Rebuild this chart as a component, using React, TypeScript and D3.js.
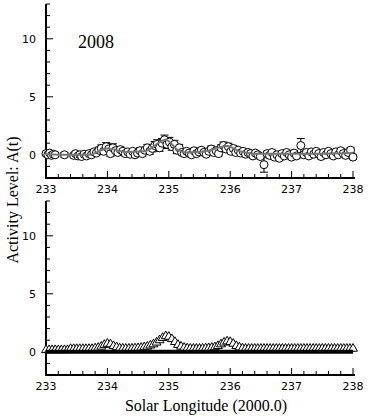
import React from 'react';
import * as d3 from 'd3';

// observed activity (top panel)
const obsLon = [
  233.0, 233.03, 233.06, 233.09, 233.12, 233.15, 233.3, 233.45, 233.48, 233.52, 233.55, 233.58, 233.62,
  233.66, 233.7, 233.74, 233.78, 233.82, 233.86, 233.9, 233.94, 233.98, 234.02, 234.05, 234.09, 234.13,
  234.17, 234.21, 234.25, 234.29, 234.33, 234.37, 234.41, 234.45, 234.49, 234.53, 234.57, 234.61, 234.65,
  234.69, 234.73, 234.77, 234.81, 234.85, 234.89, 234.93, 234.97, 235.01, 235.05, 235.09, 235.13, 235.17,
  235.21, 235.25, 235.29, 235.33, 235.37, 235.41, 235.45, 235.49, 235.53, 235.57, 235.61, 235.65, 235.69,
  235.73, 235.77, 235.81, 235.85, 235.89, 235.93, 235.97, 236.01, 236.05, 236.09, 236.13, 236.17, 236.21,
  236.25, 236.29, 236.33, 236.37, 236.41, 236.45, 236.49, 236.55, 236.6, 236.64, 236.68, 236.72, 236.76,
  236.8, 236.84, 236.88, 236.92, 236.96, 237.0, 237.04, 237.08, 237.15, 237.2, 237.24, 237.28, 237.32,
  237.36, 237.4, 237.44, 237.48, 237.52, 237.56, 237.6, 237.64, 237.68, 237.72, 237.76, 237.8, 237.84,
  237.88, 237.92, 237.96, 238.0,
];
const obsA = [
  0.1, 0.0, 0.15, -0.05, 0.05, 0.0, 0.0, -0.05, 0.1, -0.1, 0.0, -0.15, 0.05,
  -0.1, 0.1, 0.0, 0.25, 0.15, 0.4, 0.55, 0.3, 0.7, 0.5, 0.1, 0.6, 0.35,
  0.2, 0.45, 0.3, 0.1, 0.25, 0.05, 0.3, 0.0, 0.15, 0.35, 0.1, 0.4, 0.6,
  0.3, 0.55, 0.8, 0.9, 0.6, 1.0, 1.3, 0.9, 1.1, 0.7, 0.9, 0.4, 0.6,
  0.2, 0.1, 0.3, 0.15, 0.0, 0.35, 0.1, 0.25, 0.4, 0.2, 0.05, 0.3, 0.5,
  0.2, 0.35, 0.1, 0.6, 0.8, 0.5, 0.7, 0.3, 0.55, 0.2, 0.4, 0.15, 0.3,
  0.05, 0.2, 0.1, -0.1, 0.15, 0.0, -0.15, -0.85, 0.1, -0.05, 0.2, -0.2, 0.0,
  -0.3, 0.1, -0.1, 0.2, 0.0, -0.2, 0.15, -0.1, 0.8, 0.0, 0.2, -0.1, 0.25,
  0.05, 0.3, 0.1, -0.15, 0.2, 0.0, 0.3, 0.1, -0.1, 0.25, 0.0, 0.35, 0.1,
  -0.05, 0.2, 0.4, -0.2,
];
const obsErr = [
  0.15, 0.15, 0.15, 0.15, 0.15, 0.15, 0.2, 0.15, 0.15, 0.15, 0.15, 0.15, 0.15,
  0.15, 0.15, 0.15, 0.2, 0.2, 0.25, 0.3, 0.25, 0.35, 0.4, 0.25, 0.35, 0.25,
  0.2, 0.25, 0.2, 0.2, 0.2, 0.2, 0.2, 0.2, 0.2, 0.25, 0.2, 0.25, 0.3,
  0.25, 0.3, 0.35, 0.4, 0.3, 0.4, 0.4, 0.35, 0.4, 0.3, 0.35, 0.3, 0.3,
  0.2, 0.2, 0.2, 0.2, 0.2, 0.2, 0.2, 0.2, 0.2, 0.2, 0.2, 0.2, 0.25,
  0.2, 0.2, 0.2, 0.25, 0.3, 0.25, 0.3, 0.2, 0.25, 0.2, 0.2, 0.2, 0.2,
  0.2, 0.2, 0.2, 0.2, 0.2, 0.2, 0.2, 0.65, 0.2, 0.2, 0.2, 0.2, 0.2,
  0.2, 0.2, 0.2, 0.2, 0.2, 0.2, 0.2, 0.2, 0.6, 0.2, 0.2, 0.2, 0.2,
  0.2, 0.2, 0.2, 0.2, 0.2, 0.2, 0.2, 0.2, 0.2, 0.2, 0.2, 0.2, 0.2,
  0.2, 0.2, 0.2, 0.2,
];

// smoothed observed curve (grey line)
const smoothLon = [233.0, 233.4, 233.7, 234.0, 234.3, 234.6, 234.95, 235.15, 235.3, 235.6, 235.95, 236.15, 236.4, 237.0, 237.5, 238.0];
const smoothA = [0.05, 0.0, 0.0, 0.55, 0.25, 0.3, 1.3, 0.4, 0.2, 0.3, 0.75, 0.3, 0.1, 0.1, 0.1, 0.15];

// model activity (bottom panel), sampled every 0.05 deg
const modelLon = d3.range(0, 101).map((i) => 233 + i * 0.05);
const modelA = [
  0.15, 0.15, 0.15, 0.15, 0.15, 0.15, 0.15, 0.15,
  0.25, 0.25, 0.25, 0.25, 0.25, 0.25, 0.25, 0.25,
  0.3, 0.35, 0.45, 0.6, 0.7, 0.65, 0.5, 0.4, 0.3,
  0.28, 0.27, 0.27, 0.28, 0.3, 0.32, 0.35,
  0.4, 0.45, 0.55, 0.65, 0.8, 1.0, 1.2, 1.35, 1.3, 1.1, 0.85, 0.6, 0.45, 0.35,
  0.3, 0.28, 0.27, 0.27, 0.27, 0.28, 0.3, 0.32, 0.35, 0.4,
  0.5, 0.65, 0.8, 0.9, 0.85, 0.7, 0.5, 0.38, 0.3,
  0.27, 0.27, 0.27, 0.27, 0.27, 0.27, 0.27, 0.27, 0.27, 0.27, 0.27, 0.27,
  0.27, 0.27, 0.27, 0.27, 0.27, 0.27, 0.27, 0.27, 0.27, 0.27, 0.27, 0.27,
  0.27, 0.27, 0.27, 0.27, 0.27, 0.27, 0.27, 0.27, 0.27, 0.27, 0.27, 0.27,
];

const xMajor = [233, 234, 235, 236, 237, 238];
const yMajor = [0, 5, 10];
const yearLabel = '2008';

const W = 371;
const H = 418;
const left = 46;
const right = 353;

const x = d3.scaleLinear().domain([233, 238]).range([left, right]);
const tickFont = '"DejaVu Sans", sans-serif';
const serif = '"Liberation Serif", "Times New Roman", serif';

function Axes({ y }: { y: d3.ScaleLinear<number, number> }) {
  const [y0, y1] = y.range();
  const xMinor = d3.range(0, 26).map((i) => 233 + i * 0.2);
  const yMinor = d3.range(-2, 14);
  return (
    <g>
      {xMinor.map((v, i) => (
        <line key={'xm' + i} x1={x(v)} x2={x(v)} y1={y0} y2={y0 - (i % 5 === 0 ? 7 : 4)} stroke="#000" strokeWidth={1} />
      ))}
      {yMinor.map((v) => (
        <line key={'ym' + v} x1={left} x2={left + (v % 5 === 0 ? 7 : 4)} y1={y(v)} y2={y(v)} stroke="#000" strokeWidth={1} />
      ))}
      <line x1={left} x2={right + 2} y1={y0} y2={y0} stroke="#000" strokeWidth={2} />
      <line x1={left} x2={left} y1={y0 + 1} y2={y1} stroke="#000" strokeWidth={2} />
      {xMajor.map((v) => (
        <text key={'xl' + v} x={x(v)} y={y0 + 15} textAnchor="middle" fontFamily={tickFont} fontSize={11}>
          {v}
        </text>
      ))}
      {yMajor.map((v) => (
        <text key={'yl' + v} x={36} y={y(v) + 4} textAnchor="end" fontFamily={tickFont} fontSize={11}>
          {v}
        </text>
      ))}
    </g>
  );
}

export default function App() {
  const yTop = d3.scaleLinear().domain([-2, 13]).range([178, 4]);
  const yBot = d3.scaleLinear().domain([-2, 13]).range([375, 201]);

  const smoothLine = d3
    .line<number>()
    .x((d) => x(d))
    .y((_, i) => yTop(smoothA[i]))
    .curve(d3.curveMonotoneX);

  const tri = d3.symbol().type(d3.symbolTriangle).size(34);

  return (
    <svg width={W} height={H} style={{ position: 'absolute', left: 0, top: 0, background: '#fff' }}>
      {/* top panel: observations */}
      <Axes y={yTop} />
      <text x={78} y={48} fontFamily={serif} fontSize={18}>
        {yearLabel}
      </text>
      <g stroke="#000" strokeWidth={1}>
        {obsLon.map((lon, i) => {
          const cx = x(lon);
          const hi = yTop(obsA[i] + obsErr[i]);
          const lo = yTop(obsA[i] - obsErr[i]);
          return (
            <g key={'e' + i}>
              <line x1={cx} x2={cx} y1={hi} y2={lo} />
              <line x1={cx - 4} x2={cx + 4} y1={hi} y2={hi} />
              <line x1={cx - 4} x2={cx + 4} y1={lo} y2={lo} />
            </g>
          );
        })}
      </g>
      <g fill="#fff" stroke="#000" strokeWidth={1}>
        {obsLon.map((lon, i) => (
          <circle key={'c' + i} cx={x(lon)} cy={yTop(obsA[i])} r={4} />
        ))}
      </g>
      <path d={smoothLine(smoothLon) || ''} fill="none" stroke="#777" strokeWidth={2} />

      {/* bottom panel: model */}
      <Axes y={yBot} />
      <g fill="#fff" stroke="#000" strokeWidth={1}>
        {modelLon.map((lon, i) => (
          <path key={'t' + i} d={tri() || ''} transform={`translate(${x(lon)},${yBot(modelA[i])})`} />
        ))}
      </g>
      <line x1={x(233)} x2={x(238)} y1={yBot(0)} y2={yBot(0)} stroke="#000" strokeWidth={4} />

      <text x={206} y={411} textAnchor="middle" fontFamily={serif} fontSize={16}>
        Solar Longitude (2000.0)
      </text>
      <text
        transform={`translate(18,200) rotate(-90)`}
        textAnchor="middle"
        fontFamily={serif}
        fontSize={16}
      >
        Activity Level: A(t)
      </text>
    </svg>
  );
}
